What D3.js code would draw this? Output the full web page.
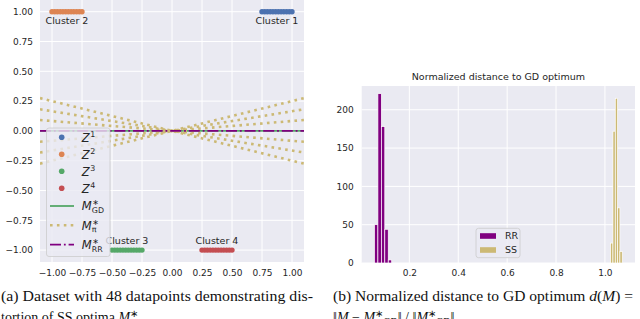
<!DOCTYPE html>
<html>
<head>
<meta charset="utf-8">
<script src="https://cdn.jsdelivr.net/npm/d3@7"></script>
<style>
body { margin: 0; background: #fff; }
svg { display: block; }
.tick text { font-family: "DejaVu Sans", sans-serif; font-size: 9px; fill: #262626; }
</style>
</head>
<body>
<div class="chart"></div>
<script>
// ---- panel (a): toy dataset ----
const clusterNames = ['Cluster 1', 'Cluster 2', 'Cluster 3', 'Cluster 4'];
const clusterLevels = [1, 1, -1, -1];
const cluster1 = [0.75, 0.773, 0.795, 0.818, 0.841, 0.864, 0.886, 0.909, 0.932, 0.955, 0.977, 1.0];
const cluster2 = [-1.0, -0.977, -0.955, -0.932, -0.909, -0.886, -0.864, -0.841, -0.818, -0.795, -0.773, -0.75];
const cluster3 = [-0.5, -0.477, -0.455, -0.432, -0.409, -0.386, -0.364, -0.341, -0.318, -0.295, -0.273, -0.25];
const cluster4 = [0.25, 0.273, 0.295, 0.318, 0.341, 0.364, 0.386, 0.409, 0.432, 0.455, 0.477, 0.5];
const clusterXs = [cluster1, cluster2, cluster3, cluster4];
const piSlopes = [0.25, 0.165, 0.083, -0.083, -0.165, -0.25];
const leftTicks = [-1, -0.75, -0.5, -0.25, 0, 0.25, 0.5, 0.75, 1];

// ---- panel (b): histogram of normalized distances ----
const rrEdges = [0.0572, 0.0713, 0.0854, 0.0995, 0.1136, 0.1277];
const rrCounts = [50, 221, 178, 44, 4];
const ssEdges = [1.0233, 1.0328, 1.0423, 1.0518, 1.0613, 1.0708];
const ssCounts = [26, 172, 215, 72, 15];
const rightXTicks = [0.2, 0.4, 0.6, 0.8, 1.0];
const rightYTicks = [0, 50, 100, 150, 200];

const zColors = ['#4c72b0', '#dd8452', '#55a868', '#c44e52'];
const gdColor = '#55a868', piColor = '#ccb974', rrColor = '#800080';
const bg = '#eaeaf2', ink = '#262626';

const svg = d3.select('.chart').append('svg')
    .attr('width', 640)
    .attr('height', 319);

const xL = d3.scaleLinear().domain([-1.1, 1.1]).range([40, 304]);
const yL = d3.scaleLinear().domain([-1.1, 1.1]).range([262, -0.2]);
const xR = d3.scaleLinear().domain([0.005, 1.123]).range([361.7, 635]);
const yR = d3.scaleLinear().domain([0, 231]).range([263, 86]);

const drawFrame = (g, x, y, xTicks, yTicks, fx, fy, padX, padY) => {
    const [x0, x1] = x.range(), [y0, y1] = y.range();
    g.append('rect')
        .attr('x', x0).attr('y', y1)
        .attr('width', x1 - x0).attr('height', y0 - y1)
        .attr('fill', bg);
    g.selectAll('.vgrid').data(xTicks).enter().append('line')
        .attr('x1', d => x(d)).attr('x2', d => x(d))
        .attr('y1', y0).attr('y2', y1)
        .attr('stroke', '#fff').attr('stroke-width', 1);
    g.selectAll('.hgrid').data(yTicks).enter().append('line')
        .attr('y1', d => y(d)).attr('y2', d => y(d))
        .attr('x1', x0).attr('x2', x1)
        .attr('stroke', '#fff').attr('stroke-width', 1);
    g.append('g')
        .attr('transform', `translate(0, ${y0})`)
        .call(d3.axisBottom(x).tickValues(xTicks).tickSize(0).tickPadding(padX).tickFormat(fx))
        .call(a => a.select('.domain').remove());
    g.append('g')
        .attr('transform', `translate(${x0}, 0)`)
        .call(d3.axisLeft(y).tickValues(yTicks).tickSize(0).tickPadding(padY).tickFormat(fy))
        .call(a => a.select('.domain').remove());
};

// ---------- left panel ----------
const left = svg.append('g').classed('left', true);
drawFrame(left, xL, yL, leftTicks, leftTicks, d3.format('.2f'), d3.format('.2f'), 8, 7);

left.append('clipPath').attr('id', 'clipL')
    .append('rect')
    .attr('x', xL.range()[0]).attr('y', yL.range()[1])
    .attr('width', xL.range()[1] - xL.range()[0])
    .attr('height', yL.range()[0] - yL.range()[1]);

const plotL = left.append('g').attr('clip-path', 'url(#clipL)');

clusterXs.forEach((xs, i) => {
    plotL.selectAll(`.pt${i}`)
        .data(xs)
        .enter()
        .append('circle')
            .attr('cx', d => xL(d))
            .attr('cy', yL(clusterLevels[i]))
            .attr('r', 2.7)
            .attr('fill', zColors[i]);
});

const xDom = xL.domain();
plotL.append('line')
    .attr('x1', xL(xDom[0])).attr('x2', xL(xDom[1]))
    .attr('y1', yL(0)).attr('y2', yL(0))
    .attr('stroke', gdColor).attr('stroke-width', 1.8);

plotL.selectAll('.pi')
    .data(piSlopes)
    .enter()
    .append('line')
        .attr('x1', xL(xDom[0])).attr('y1', d => yL(d * xDom[0]))
        .attr('x2', xL(xDom[1])).attr('y2', d => yL(d * xDom[1]))
        .attr('stroke', piColor)
        .attr('stroke-width', 2.6)
        .attr('stroke-dasharray', '2.6 4.3');

plotL.append('line')
    .attr('x1', xL(xDom[0])).attr('x2', xL(xDom[1]))
    .attr('y1', yL(0)).attr('y2', yL(0))
    .attr('stroke', rrColor).attr('stroke-width', 1.8)
    .attr('stroke-dasharray', '11 2.9 1.8 2.9');

// cluster labels
left.selectAll('.clabel')
    .data(clusterNames)
    .enter()
    .append('text')
        .attr('x', (d, i) => xL(d3.mean(clusterXs[i])))
        .attr('y', (d, i) => yL(clusterLevels[i]) + (clusterLevels[i] > 0 ? 12.3 : -6))
        .attr('text-anchor', 'middle')
        .attr('font-family', 'DejaVu Sans')
        .attr('font-size', 9.5)
        .attr('fill', ink)
        .text(d => d);

// legend
const legend = left.append('g').classed('legend', true);
legend.append('rect')
    .attr('x', 46.5).attr('y', 128)
    .attr('width', 63.5).attr('height', 128.5)
    .attr('rx', 2.5)
    .attr('fill', bg).attr('fill-opacity', 0.8)
    .attr('stroke', '#cccccc').attr('stroke-width', 0.8);

const legendItems = [
    { kind: 'dot', color: zColors[0], base: 'Z', sup: '1' },
    { kind: 'dot', color: zColors[1], base: 'Z', sup: '2' },
    { kind: 'dot', color: zColors[2], base: 'Z', sup: '3' },
    { kind: 'dot', color: zColors[3], base: 'Z', sup: '4' },
    { kind: 'solid', color: gdColor, base: 'M', sup: '\u2217', sub: 'GD' },
    { kind: 'dot-line', color: piColor, base: 'M', sup: '\u2217', sub: '\u03c0' },
    { kind: 'dashdot', color: rrColor, base: 'M', sup: '\u2217', sub: 'RR' }
];

const mathLabel = (g, x, y, item) => {
    const t = g.append('text')
        .attr('x', x).attr('y', y)
        .attr('font-family', 'DejaVu Sans')
        .attr('font-style', 'italic')
        .attr('font-size', 11.5)
        .attr('fill', ink)
        .text(item.base);
    const w = t.node().getComputedTextLength();
    g.append('text')
        .attr('x', x + w + 0.6).attr('y', y - 5)
        .attr('font-family', 'DejaVu Sans')
        .attr('font-size', 7.9)
        .attr('fill', ink)
        .text(item.sup);
    if (item.sub) {
        g.append('text')
            .attr('x', x + w + 0.2).attr('y', y + 2.8)
            .attr('font-family', 'DejaVu Sans')
            .attr('font-size', 7.9)
            .attr('fill', ink)
            .text(item.sub);
    }
};

legendItems.forEach((item, i) => {
    const cy = i < 4 ? 137.3 + 17 * i : 206 + 19.3 * (i - 4);
    if (item.kind === 'dot') {
        legend.append('circle').attr('cx', 61.7).attr('cy', cy).attr('r', 2.8).attr('fill', item.color);
    } else {
        const ln = legend.append('line')
            .attr('x1', 50).attr('x2', 74)
            .attr('y1', cy).attr('y2', cy)
            .attr('stroke', item.color);
        if (item.kind === 'solid') ln.attr('stroke-width', 1.8);
        if (item.kind === 'dot-line') ln.attr('stroke-width', 2.6).attr('stroke-dasharray', '2.6 4.3');
        if (item.kind === 'dashdot') ln.attr('stroke-width', 1.8).attr('stroke-dasharray', '11 2.9 1.8 2.9');
    }
    mathLabel(legend, 81.7, cy + 4.2, item);
});

// ---------- right panel ----------
const right = svg.append('g').classed('right', true);
drawFrame(right, xR, yR, rightXTicks, rightYTicks, d3.format('.1f'), d3.format('d'), 7, 8);

const drawHist = (edges, counts, color) => {
    right.selectAll(null)
        .data(counts)
        .enter()
        .append('rect')
            .attr('x', (d, i) => xR(edges[i]))
            .attr('width', (d, i) => xR(edges[i + 1]) - xR(edges[i]))
            .attr('y', d => yR(d))
            .attr('height', d => yR(0) - yR(d))
            .attr('fill', color)
            .attr('stroke', '#fff')
            .attr('stroke-width', 0.7);
};
drawHist(rrEdges, rrCounts, rrColor);
drawHist(ssEdges, ssCounts, piColor);

right.append('text')
    .attr('x', (xR.range()[0] + xR.range()[1]) / 2)
    .attr('y', 79.5)
    .attr('text-anchor', 'middle')
    .attr('font-family', 'DejaVu Sans')
    .attr('font-size', 9.5)
    .attr('fill', ink)
    .text('Normalized distance to GD optimum');

const rlegend = right.append('g').classed('legend', true);
rlegend.append('rect')
    .attr('x', 476).attr('y', 228.3)
    .attr('width', 44).attr('height', 29.4)
    .attr('rx', 2.5)
    .attr('fill', bg).attr('fill-opacity', 0.8)
    .attr('stroke', '#cccccc').attr('stroke-width', 0.8);
[['RR', rrColor], ['SS', piColor]].forEach(([name, color], i) => {
    const cy = 236 + 14 * i;
    rlegend.append('rect')
        .attr('x', 480).attr('y', cy - 2.8)
        .attr('width', 16).attr('height', 5.6)
        .attr('fill', color);
    rlegend.append('text')
        .attr('x', 505).attr('y', cy + 3.3)
        .attr('font-family', 'DejaVu Sans')
        .attr('font-size', 9.5)
        .attr('fill', ink)
        .text(name);
});

// ---------- captions ----------
const cap = svg.append('g')
    .attr('font-family', '"Liberation Serif", serif')
    .attr('font-size', 14)
    .attr('fill', '#111');

cap.append('text')
    .attr('x', 1).attr('y', 301)
    .attr('textLength', 312).attr('lengthAdjust', 'spacingAndGlyphs')
    .text('(a) Dataset with 48 datapoints demonstrating dis-');

const capA2 = cap.append('text').attr('x', 1).attr('y', 322);
capA2.append('tspan').text('tortion of SS optima ');
capA2.append('tspan').attr('font-style', 'italic').text('M');
capA2.append('tspan').attr('dy', -5).attr('font-size', 10).text('\u2217');
capA2.append('tspan').attr('dy', 8).attr('font-size', 10).text('\u03c0');

const capB = cap.append('text')
    .attr('x', 333).attr('y', 301)
    .attr('textLength', 300).attr('lengthAdjust', 'spacingAndGlyphs');
capB.append('tspan').text('(b) Normalized distance to GD optimum ');
capB.append('tspan').attr('font-style', 'italic').text('d');
capB.append('tspan').text('(');
capB.append('tspan').attr('font-style', 'italic').text('M');
capB.append('tspan').text(') =');

const capB2 = cap.append('text').attr('x', 333).attr('y', 322);
capB2.append('tspan').text('\u2016');
capB2.append('tspan').attr('font-style', 'italic').text('M');
capB2.append('tspan').text(' \u2212 ');
capB2.append('tspan').attr('font-style', 'italic').text('M');
capB2.append('tspan').attr('dy', -5).attr('font-size', 10).text('\u2217');
capB2.append('tspan').attr('dy', 8).attr('font-size', 10).text('GD');
capB2.append('tspan').attr('dy', -3).text('\u2016 / \u2016');
capB2.append('tspan').attr('font-style', 'italic').text('M');
capB2.append('tspan').attr('dy', -5).attr('font-size', 10).text('\u2217');
capB2.append('tspan').attr('dy', 8).attr('font-size', 10).text('GD');
capB2.append('tspan').attr('dy', -3).text('\u2016');
</script>
</body>
</html>
